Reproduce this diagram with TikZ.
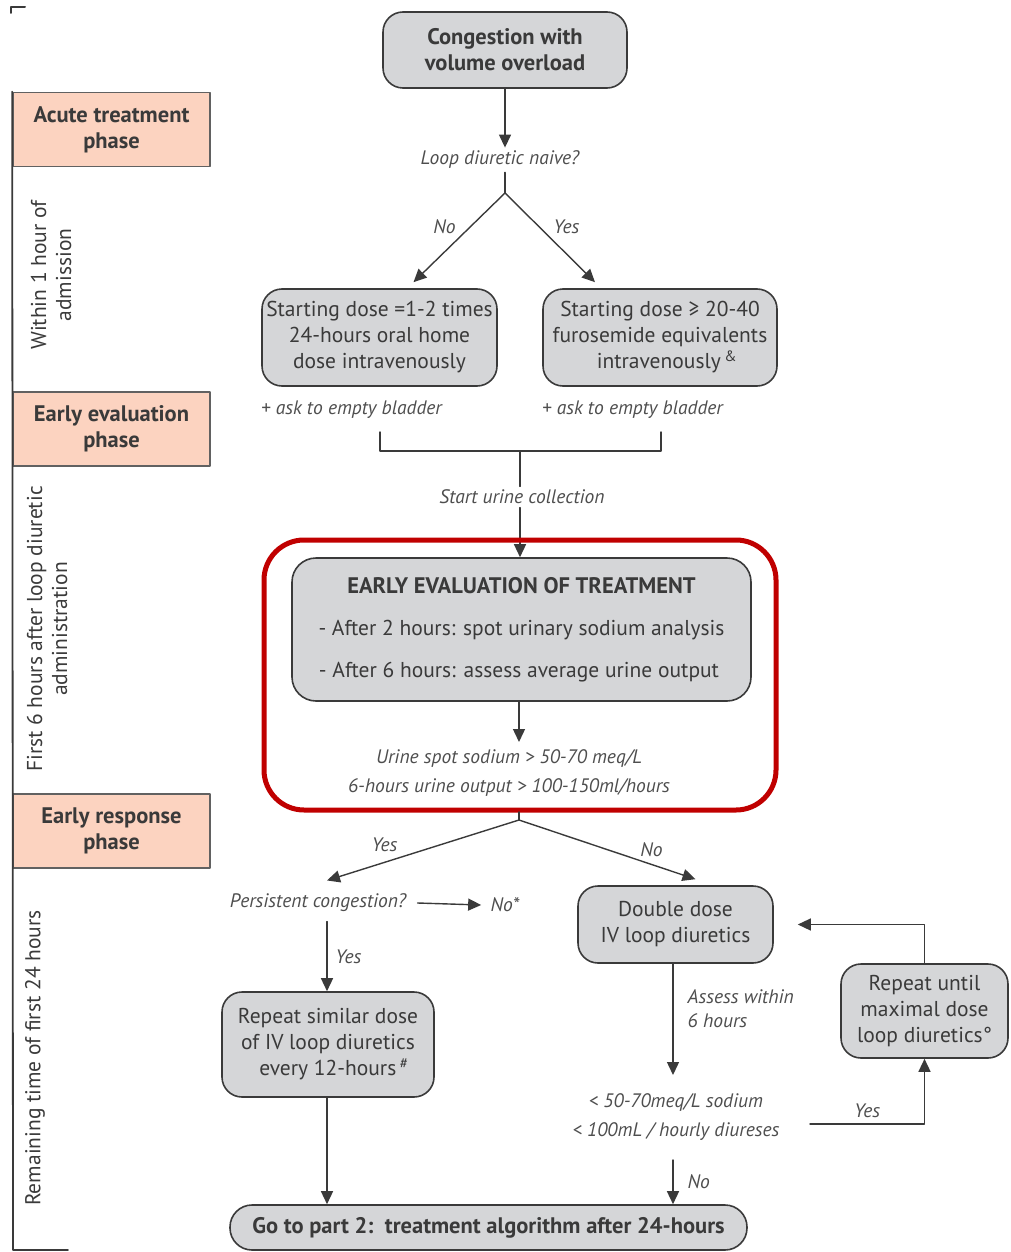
\documentclass[tikz,border=0pt]{standalone}
\usepackage{fontspec}
\setmainfont{PT Sans}
\usetikzlibrary{arrows.meta,positioning}
\definecolor{boxgray}{HTML}{D5D6D8}
\definecolor{phasepeach}{HTML}{FCD3C0}
\definecolor{framered}{HTML}{C00000}
\definecolor{inkgray}{HTML}{3A3A3A}
\begin{document}
\begin{tikzpicture}[x=1pt,y=-1pt,line join=round,line cap=round,>={Triangle[length=13pt,width=12pt]},
	flowbox/.style={draw=inkgray,fill=boxgray,rounded corners=20pt,line width=1.6pt,align=center,text=inkgray,inner sep=0pt,font=\fontsize{21.5}{26}\selectfont},
	boldbox/.style={flowbox,font=\fontsize{22.5}{26}\selectfont\bfseries},
	phasebox/.style={draw=inkgray!80,fill=phasepeach,line width=1.6pt,minimum width=197pt,minimum height=74pt,align=center,text=inkgray,inner sep=0pt,font=\fontsize{22.5}{26}\selectfont\bfseries},
	note/.style={text=inkgray!90,align=center,font=\fontsize{19.5}{29}\selectfont\itshape},
	side/.style={rotate=90,align=center,text=inkgray,font=\fontsize{21.5}{25}\selectfont},
	link/.style={draw=inkgray,line width=1.4pt}]
	\useasboundingbox (0,0) rectangle (1010,1252);
	% phases on the left
	\draw[draw=inkgray,line width=2pt] (11,13)--(11,7)--(25,7);
	\node[phasebox] (acute) at (111.5,129.5) {Acute treatment\\phase};
	\node[phasebox] (evalphase) at (111.5,429) {Early evaluation\\phase};
	\node[phasebox] (response) at (111.5,831) {Early response\\phase};
	\draw[link,line width=1.8pt] (acute.north west)--(13,1250)--(68,1250);
	\node[side] (within) at (51,275) {Within 1 hour of\\admission};
	\node[side] (firstsix) at (47,629) {First 6 hours after loop diuretic\\administration};
	\node[side] (remaining) at (35,1058) {Remaining time of first 24 hours};
	% acute treatment
	\node[boldbox,minimum width=244pt,minimum height=76pt] (start) at (505,50) {Congestion with\\volume overload};
	\node[note] (naive) at (500,160) {Loop diuretic naive?};
	\coordinate (split1) at (505,193);
	\node[flowbox,minimum width=235pt,minimum height=97pt] (dosehome) at (379.5,337.5) {Starting dose =1-2 times\\24-hours oral home\\dose intravenously};
	\node[flowbox,minimum width=234pt,minimum height=97pt] (dosenaive) at (660,337.5) {Starting dose ≥ 20-40\\furosemide equivalents\\\hspace*{14pt}intravenously\,\textsuperscript{\&}};
	\draw[link,->] (start.south)--(start.south |- naive.north);
	\draw[link] (split1 |- naive.south)--(split1);
	\draw[link,->] (split1)--node[note,pos=0.5,above left,inner sep=3pt]{No} ([xshift=34pt,yshift=6pt]dosehome.north);
	\draw[link,->] (split1)--node[note,pos=0.5,above right,inner sep=3pt]{Yes} ([xshift=-65pt,yshift=6pt]dosenaive.north);
	\node[note,anchor=west,inner sep=0pt] (bladderL) at (261,410) {+ ask to empty bladder};
	\node[note,anchor=west,inner sep=0pt] (bladderR) at (542,410) {+ ask to empty bladder};
	% early evaluation
	\coordinate (brL) at (380,451);
	\coordinate (brR) at (661,451);
	\coordinate (brM) at (520,451);
	\draw[link] (380,432)--(brL)--(brR)--(661,432);
	\node[note] (collect) at (522,497) {Start urine collection};
	\draw[link] (brM)--(brM |- collect.north);
	\node[flowbox,minimum width=459pt,minimum height=143pt,rounded corners=24pt,font=\fontsize{21.5}{42}\selectfont] (evalbox) at (521.5,629.5) {{\fontsize{22.5}{26}\selectfont\bfseries EARLY EVALUATION OF TREATMENT}\\- After 2 hours: spot urinary sodium analysis\\- After 6 hours: assess average urine output\hspace*{5pt}};
	\draw[link,->] (collect.south -| brM)--(brM |- evalbox.north);
	\node[note] (outcome) at (509,773) {Urine spot sodium > 50-70 meq/L\\6-hours urine output > 100-150ml/hours};
	\draw[link,->] (evalbox.south -| 519,0)--(519,742);
	\draw[draw=framered,line width=5pt,rounded corners=40pt] (264,540) rectangle (776,810);
	% early response
	\coordinate (split2) at (519,820);
	\draw[link] (519,812)--(split2);
	\node[note] (persist) at (318,903) {Persistent congestion?};
	\node[note] (nostar) at (505,905) {No*};
	\node[flowbox,minimum width=195pt,minimum height=77pt] (double) at (675.5,924.5) {Double dose\\IV loop diuretics};
	\draw[link,->] (split2)--node[note,pos=0.7,above,inner sep=10pt]{Yes} ([xshift=9pt,yshift=10pt]persist.north);
	\draw[link,->] (split2)--node[note,pos=0.75,above,inner sep=7pt]{No} ([xshift=20pt,yshift=6pt]double.north);
	\draw[link,->] ([xshift=8pt]persist.east)--([xshift=-6pt]nostar.west);
	\node[flowbox,minimum width=212pt,minimum height=105pt] (repeat12) at (328,1044.5) {Repeat similar dose\\of IV loop diuretics\\\hspace*{12pt}every 12-hours\,\textsuperscript{\#}};
	\draw[link,->] ([yshift=-6pt]persist.south -| 327,0)--node[note,right,inner sep=8pt]{Yes} (repeat12.north -| 327,0);
	\node[note] (lowout) at (676,1117) {< 50-70meq/L sodium\\< 100mL / hourly diureses};
	\draw[link,->] (double.south -| 673,0)--node[note,pos=0.4,right,align=left,inner sep=14pt,font=\fontsize{19.5}{24}\selectfont\itshape]{Assess within\\6 hours} (673,1075);
	\node[flowbox,minimum width=167pt,minimum height=94pt] (repmax) at (924.5,1011) {Repeat until\\maximal dose\\loop diuretics°};
	\coordinate (yesstart) at (810,1124);
	\draw[link,->] (yesstart)-|node[note,pos=0.25,above,inner sep=6pt]{Yes} (repmax.south);
	\draw[link,->] (repmax.north)|-([xshift=24pt]double.east);
	\node[boldbox,minimum width=517pt,minimum height=45pt,rounded corners=22pt] (final) at (488.5,1227.5) {Go to part 2:\ \ treatment algorithm after 24-hours};
	\draw[link,->] (repeat12.south -| 327,0)--(final.north -| 327,0);
	\draw[link,->] (673,1160)--node[note,right,inner sep=14pt]{No} (final.north -| 673,0);
\end{tikzpicture}
\end{document}
